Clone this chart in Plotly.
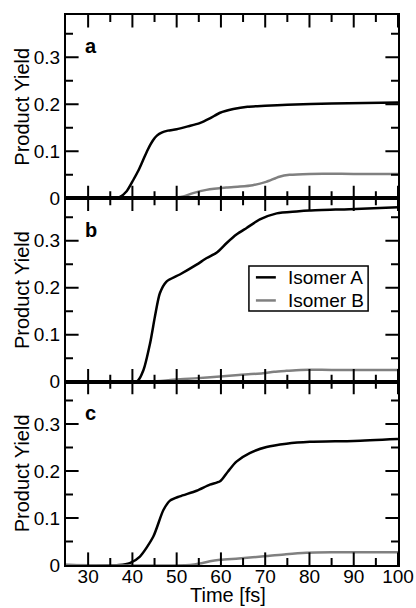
import plotly.graph_objects as go
from plotly.subplots import make_subplots

# Panel a
t_a_A = [25, 35.5, 37.2, 38.7, 40.2, 41.3, 42.4, 43.5, 44.7, 45.6, 46.6, 48, 50, 52.5, 55.2, 57.5, 59.8, 62.8, 66, 70, 75, 85, 100]
y_a_A = [0, 0, 0.003, 0.015, 0.039, 0.058, 0.081, 0.104, 0.124, 0.134, 0.140, 0.144, 0.147, 0.153, 0.160, 0.170, 0.182, 0.190, 0.195, 0.197, 0.199, 0.202, 0.204]
t_a_B = [25, 45, 50, 51.5, 53.7, 56.7, 61.2, 64.3, 67.2, 70.2, 73.2, 75.5, 80, 90, 100]
y_a_B = [0, 0, 0.002, 0.004, 0.011, 0.018, 0.023, 0.025, 0.028, 0.035, 0.046, 0.050, 0.052, 0.052, 0.052]

# Panel b
t_b_A = [25, 41, 42.5, 44, 45.1, 46.2, 47.7, 50.7, 54.5, 56.8, 59, 61.3, 63.5, 65.8, 68.8, 72.6, 77.1, 80, 89, 100]
y_b_A = [0, 0, 0.025, 0.082, 0.139, 0.188, 0.213, 0.228, 0.249, 0.263, 0.274, 0.295, 0.313, 0.327, 0.345, 0.358, 0.362, 0.364, 0.367, 0.371]
t_b_B = [25, 44, 49.2, 54, 59.8, 64, 69.5, 72, 74.8, 78, 85, 100]
y_b_B = [0, 0, 0.004, 0.007, 0.011, 0.014, 0.018, 0.021, 0.023, 0.025, 0.025, 0.025]

# Panel c
t_c_A = [25, 37, 39.4, 41.7, 44.7, 47, 48.5, 50.7, 54.5, 57.5, 59.8, 61.6, 63.5, 66.5, 70.3, 74.8, 80.1, 90, 100]
y_c_A = [0, 0, 0.004, 0.018, 0.060, 0.117, 0.137, 0.146, 0.158, 0.171, 0.178, 0.199, 0.220, 0.238, 0.251, 0.258, 0.262, 0.264, 0.268]
t_c_B = [25, 53, 55.2, 57.5, 59.8, 64, 70.3, 74.7, 79.3, 85, 100]
y_c_B = [0, 0, 0.003, 0.008, 0.011, 0.014, 0.019, 0.023, 0.026, 0.027, 0.027]

panel_labels = ["a", "b", "c"]
series_names = ["Isomer A", "Isomer B"]
x_ticks = [30, 40, 50, 60, 70, 80, 90, 100]
x_minor_ticks = [35, 45, 55, 65, 75, 85, 95]
y_ticks = [0, 0.1, 0.2, 0.3]
y_minor_ticks = [0.05, 0.15, 0.25, 0.35]
x_range = [25, 100]
y_range = [0, 0.39]

FONT = "Liberation Sans"
BLACK = "black"
GRAY = "#808080"
MAJOR_SIZE = 18   # marker centred on the frame; half (9 px) shows inside
MINOR_SIZE = 10

fig = make_subplots(rows=3, cols=1, shared_xaxes=True, vertical_spacing=0)

panels = [(t_a_A, y_a_A, t_a_B, y_a_B), (t_b_A, y_b_A, t_b_B, y_b_B), (t_c_A, y_c_A, t_c_B, y_c_B)]
for i, (tA, yA, tB, yB) in enumerate(panels):
    row = i + 1
    fig.add_trace(go.Scatter(x=tA, y=yA, mode="lines", name=series_names[0],
                             line=dict(color=BLACK, width=2.5, shape="spline", smoothing=0.7),
                             showlegend=False, hoverinfo="skip"), row=row, col=1)
    fig.add_trace(go.Scatter(x=tB, y=yB, mode="lines", name=series_names[1],
                             line=dict(color=GRAY, width=2.5, shape="spline", smoothing=0.7),
                             showlegend=False, hoverinfo="skip"), row=row, col=1)

    # inward tick marks: markers centred on the frame, clipped to the plot area
    for vals, size in ((x_ticks, MAJOR_SIZE), (x_minor_ticks, MINOR_SIZE)):
        fig.add_trace(go.Scatter(x=vals + vals, y=[y_range[0]] * len(vals) + [y_range[1]] * len(vals),
                                 mode="markers", cliponaxis=True, showlegend=False, hoverinfo="skip",
                                 marker=dict(symbol="line-ns", size=size, color=BLACK,
                                             line=dict(width=2, color=BLACK))), row=row, col=1)
    for vals, size in ((y_ticks[1:], MAJOR_SIZE), (y_minor_ticks, MINOR_SIZE)):
        fig.add_trace(go.Scatter(x=[x_range[0]] * len(vals) + [x_range[1]] * len(vals), y=vals + vals,
                                 mode="markers", cliponaxis=True, showlegend=False, hoverinfo="skip",
                                 marker=dict(symbol="line-ew", size=size, color=BLACK,
                                             line=dict(width=2, color=BLACK))), row=row, col=1)

for row in range(1, 4):
    fig.update_xaxes(ticks="", showline=True, linecolor=BLACK, linewidth=2, mirror=True,
                     range=x_range, tickvals=x_ticks, showgrid=False, zeroline=False,
                     automargin=False, row=row, col=1)
    fig.update_yaxes(ticks="", showline=True, linecolor=BLACK, linewidth=2, mirror=True,
                     range=y_range, tickvals=y_ticks, showgrid=False, zeroline=False,
                     automargin=False, row=row, col=1)

fig.update_xaxes(ticklabelstandoff=-7, row=3, col=1)

# axis titles (paper coordinates; plot area spans x 0..1, y 0..1)
title_y = [0.8333, 0.5, 0.1667]
for yy in title_y:
    fig.add_annotation(text="Product Yield", xref="paper", yref="paper", x=-0.1325, y=yy,
                       xanchor="center", yanchor="middle", textangle=-90, showarrow=False,
                       font=dict(family=FONT, size=20, color=BLACK))
fig.add_annotation(text="Time [fs]", xref="paper", yref="paper", x=0.4865, y=-0.055,
                   xanchor="center", yanchor="middle", showarrow=False,
                   font=dict(family=FONT, size=20, color=BLACK))

# panel letters
letter_y = [0.9433, 0.61, 0.2767]
for lab, yy in zip(panel_labels, letter_y):
    fig.add_annotation(text=f"<b>{lab}</b>", xref="paper", yref="paper", x=0.051, y=yy,
                       xanchor="left", yanchor="middle", showarrow=False,
                       font=dict(family=FONT, size=20, color=BLACK))

# legend box in panel b
fig.add_shape(type="rect", xref="paper", yref="paper", x0=0.551, x1=0.910, y0=0.4617, y1=0.5437,
              line=dict(color=BLACK, width=1.5), fillcolor="white", layer="above")
for k, (name, col) in enumerate(zip(series_names, [BLACK, GRAY])):
    yy = 0.5230 - k * 0.042
    fig.add_shape(type="line", xref="paper", yref="paper", x0=0.572, x1=0.632, y0=yy, y1=yy,
                  line=dict(color=col, width=2.5), layer="above")
    fig.add_annotation(text=name, xref="paper", yref="paper", x=0.663, y=yy,
                       xanchor="left", yanchor="middle", showarrow=False,
                       font=dict(family=FONT, size=19, color=BLACK))

fig.update_layout(
    template="none",
    width=416, height=608,
    margin=dict(l=66, r=18, t=15, b=43),
    paper_bgcolor="white", plot_bgcolor="white",
    font=dict(family=FONT, size=19, color=BLACK),
    showlegend=False,
)

fig.write_html("out.html")
